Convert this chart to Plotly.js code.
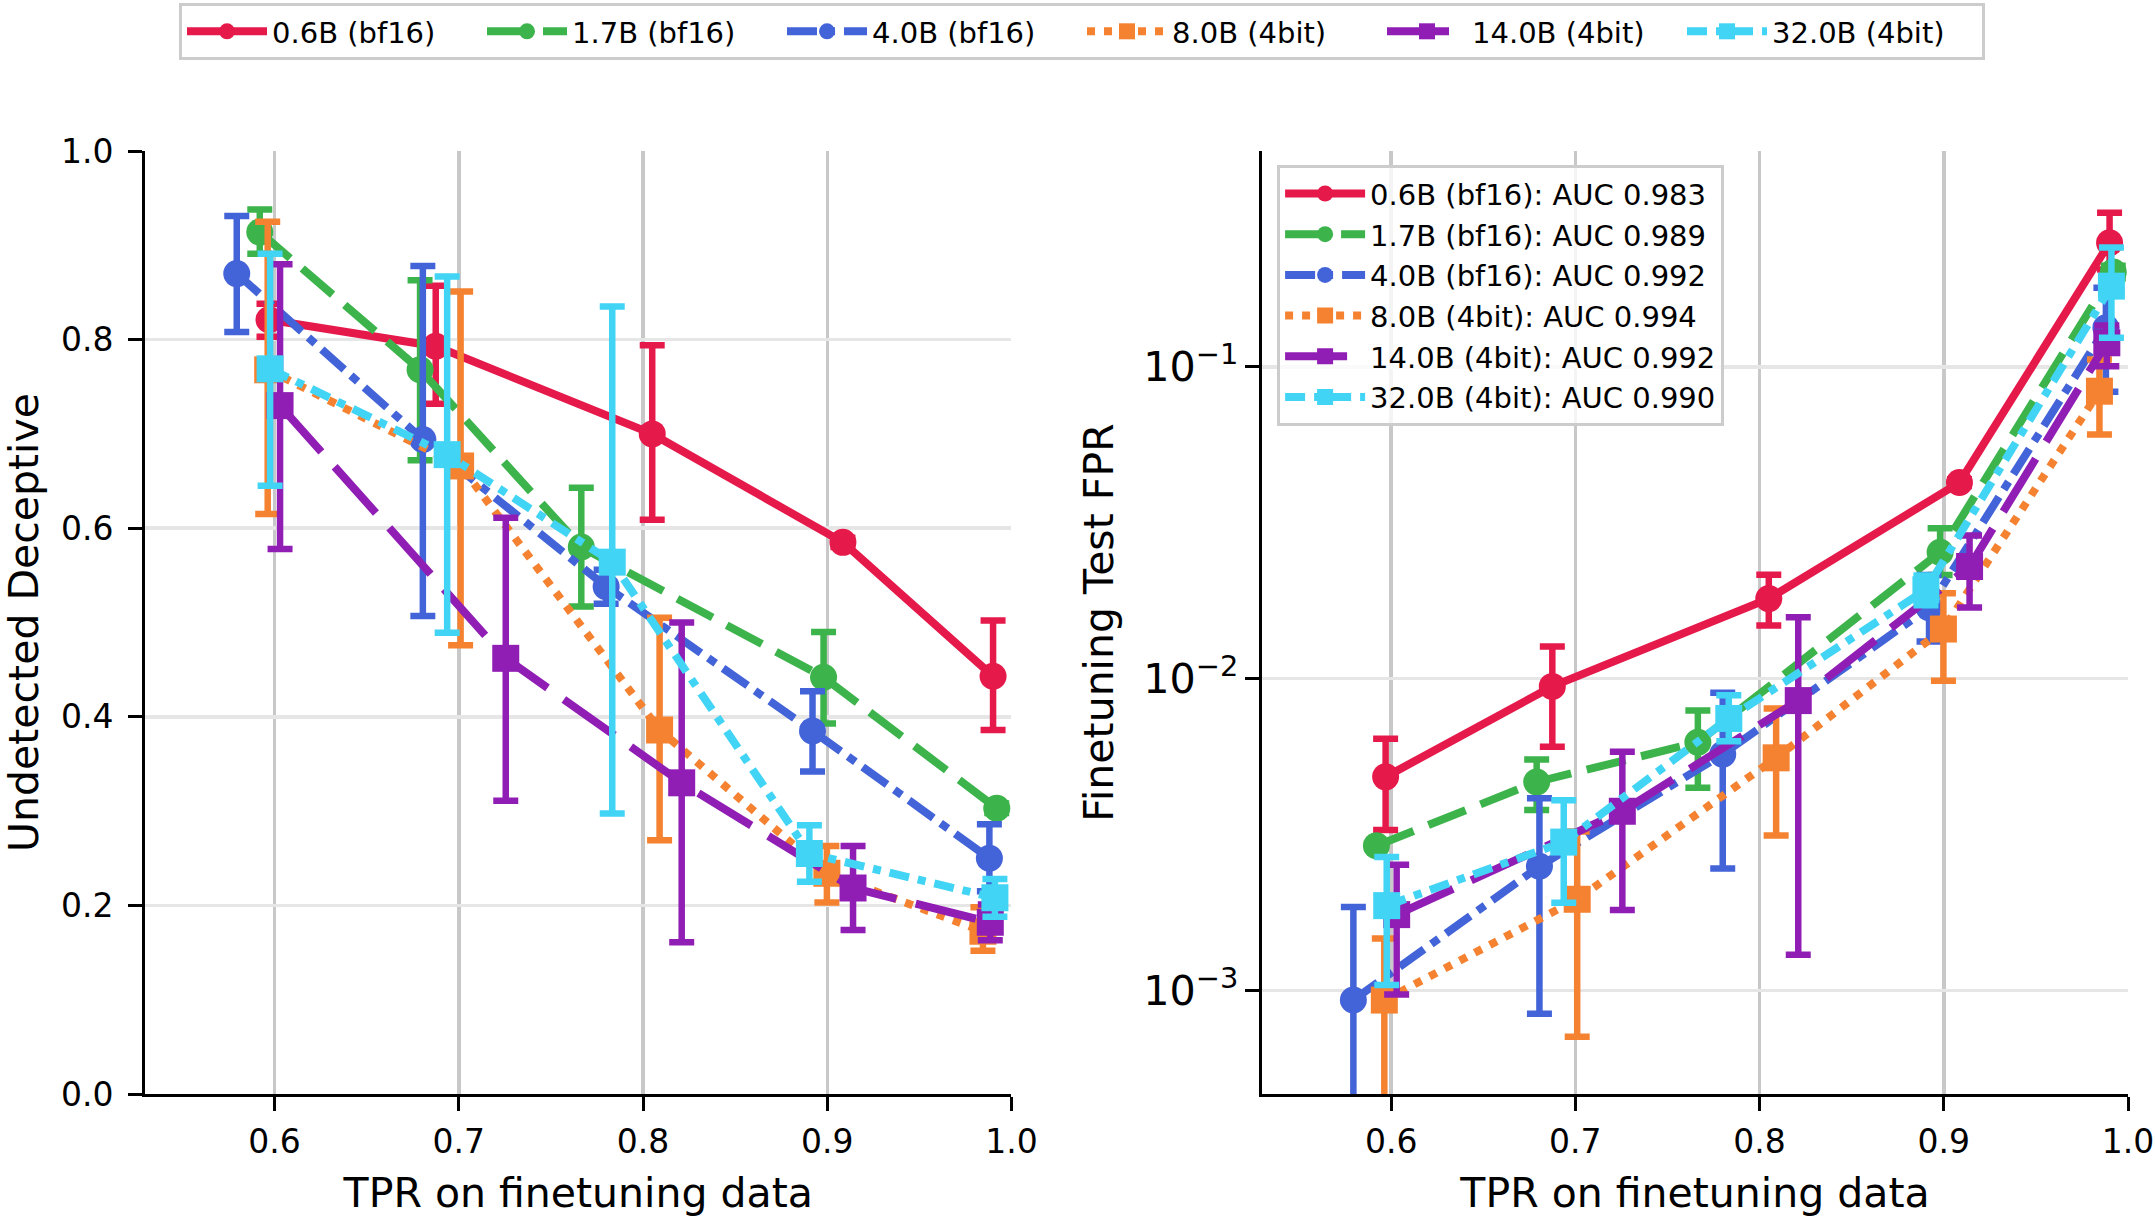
<!DOCTYPE html>
<html>
<head>
<meta charset="utf-8">
<script src="https://cdn.plot.ly/plotly-3.0.1.min.js"></script>
<style>
  html, body { margin: 0; padding: 0; background: #ffffff; }
  #chart { width: 2155px; height: 1217px; }
</style>
</head>
<body>
<div id="chart"></div>
<script>
// Model variants
const modelNames = ['0.6B (bf16)', '1.7B (bf16)', '4.0B (bf16)', '8.0B (4bit)', '14.0B (4bit)', '32.0B (4bit)'];
const aucValues = ['0.983', '0.989', '0.992', '0.994', '0.992', '0.990'];

// TPR on finetuning data (shared x for both panels)
const tpr_06 = [0.597, 0.6875, 0.805, 0.9085, 0.990];
const tpr_17 = [0.592, 0.679, 0.7665, 0.898, 0.992];
const tpr_40 = [0.5795, 0.6805, 0.780, 0.892, 0.988];
const tpr_80 = [0.5963, 0.701, 0.809, 0.8998, 0.9845];
const tpr_140 = [0.603, 0.7255, 0.821, 0.914, 0.9885];
const tpr_320 = [0.5976, 0.6937, 0.7833, 0.8903, 0.991];

// Undetected deceptive fraction, with lower / upper interval bounds
const undet_06 = [0.821, 0.793, 0.700, 0.585, 0.443];
const undet_06_lo = [0.803, 0.732, 0.609, 0.580, 0.386];
const undet_06_hi = [0.838, 0.857, 0.794, 0.590, 0.502];
const undet_17 = [0.914, 0.768, 0.580, 0.442, 0.303];
const undet_17_lo = [0.891, 0.672, 0.517, 0.393, 0.298];
const undet_17_hi = [0.938, 0.863, 0.643, 0.490, 0.308];
const undet_40 = [0.870, 0.694, 0.538, 0.385, 0.250];
const undet_40_lo = [0.808, 0.507, 0.520, 0.342, 0.215];
const undet_40_hi = [0.931, 0.878, 0.556, 0.427, 0.286];
const undet_80 = [0.768, 0.666, 0.386, 0.234, 0.1725];
const undet_80_lo = [0.615, 0.476, 0.269, 0.203, 0.152];
const undet_80_hi = [0.925, 0.851, 0.505, 0.263, 0.198];
const undet_140 = [0.730, 0.462, 0.330, 0.2185, 0.182];
const undet_140_lo = [0.578, 0.311, 0.161, 0.174, 0.163];
const undet_140_hi = [0.880, 0.611, 0.500, 0.263, 0.201];
const undet_320 = [0.769, 0.678, 0.564, 0.255, 0.208];
const undet_320_lo = [0.645, 0.489, 0.2975, 0.225, 0.188];
const undet_320_hi = [0.891, 0.867, 0.835, 0.285, 0.228];

// Finetuning test FPR, with lower / upper interval bounds
const fpr_06 = [0.00484, 0.00944, 0.01805, 0.04253, 0.250];
const fpr_06_lo = [0.00327, 0.00604, 0.0148, 0.0415, 0.205];
const fpr_06_hi = [0.00641, 0.01267, 0.02154, 0.0436, 0.312];
const fpr_17 = [0.00291, 0.00466, 0.00625, 0.02542, 0.2012];
const fpr_17_lo = [0.00286, 0.00379, 0.00447, 0.0215, 0.192];
const fpr_17_hi = [0.00296, 0.0055, 0.0079, 0.03034, 0.211];
const fpr_40 = [0.000931, 0.0025, 0.00572, 0.01689, 0.1334];
const fpr_40_lo = [0.0003, 0.000841, 0.00246, 0.01315, 0.0831];
const fpr_40_hi = [0.00185, 0.00413, 0.00901, 0.0215, 0.1793];
const fpr_80 = [0.000931, 0.00196, 0.00557, 0.01442, 0.0835];
const fpr_80_lo = [0.0003, 0.00071, 0.00314, 0.00984, 0.0607];
const fpr_80_hi = [0.001466, 0.00323, 0.00802, 0.01877, 0.1055];
const fpr_140 = [0.00175, 0.003754, 0.0085, 0.02288, 0.1194];
const fpr_140_lo = [0.00097, 0.00181, 0.0013, 0.01689, 0.1004];
const fpr_140_hi = [0.00253, 0.00583, 0.01574, 0.02876, 0.1357];
const fpr_320 = [0.00187, 0.00299, 0.00745, 0.01927, 0.1814];
const fpr_320_lo = [0.00104, 0.00191, 0.0063, 0.0172, 0.1239];
const fpr_320_hi = [0.00268, 0.00407, 0.00885, 0.0214, 0.2414];

// Per-series styling
const colors = ['#e6194b', '#3cb44b', '#4363d8', '#f58231', '#911eb4', '#42d4f4'];
const symbols = ['circle', 'circle', 'circle', 'square', 'square', 'square'];
const dashes = ['solid', '40px,16px', '30px,9px,9px,9px', '8px,9px', '62px,20px', '20px,9px,8px,9px'];

const series = [
  {x: tpr_06, u: undet_06, ul: undet_06_lo, uh: undet_06_hi, f: fpr_06, fl: fpr_06_lo, fh: fpr_06_hi},
  {x: tpr_17, u: undet_17, ul: undet_17_lo, uh: undet_17_hi, f: fpr_17, fl: fpr_17_lo, fh: fpr_17_hi},
  {x: tpr_40, u: undet_40, ul: undet_40_lo, uh: undet_40_hi, f: fpr_40, fl: fpr_40_lo, fh: fpr_40_hi},
  {x: tpr_80, u: undet_80, ul: undet_80_lo, uh: undet_80_hi, f: fpr_80, fl: fpr_80_lo, fh: fpr_80_hi},
  {x: tpr_140, u: undet_140, ul: undet_140_lo, uh: undet_140_hi, f: fpr_140, fl: fpr_140_lo, fh: fpr_140_hi},
  {x: tpr_320, u: undet_320, ul: undet_320_lo, uh: undet_320_hi, f: fpr_320, fl: fpr_320_lo, fh: fpr_320_hi}
];

function errBars(y, lo, hi, color) {
  return {
    type: 'data', symmetric: false, visible: true,
    array: y.map((v, i) => hi[i] - v),
    arrayminus: y.map((v, i) => v - lo[i]),
    color: color, thickness: 6.5, width: 12.5
  };
}

function baseTrace(s, i) {
  return {
    type: 'scatter', mode: 'lines+markers', x: s.x,
    line: {color: colors[i], width: 8, dash: dashes[i]},
    marker: {symbol: symbols[i], size: 27, color: colors[i], line: {width: 0}}
  };
}

const traces = [];
// Left panel: undetected deceptive vs TPR
series.forEach((s, i) => {
  traces.push(Object.assign(baseTrace(s, i), {
    y: s.u, xaxis: 'x', yaxis: 'y',
    name: modelNames[i], legend: 'legend',
    error_y: errBars(s.u, s.ul, s.uh, colors[i])
  }));
});
// Right panel: finetuning test FPR vs TPR (log scale)
series.forEach((s, i) => {
  traces.push(Object.assign(baseTrace(s, i), {
    y: s.f, xaxis: 'x2', yaxis: 'y2',
    name: modelNames[i] + ': AUC ' + aucValues[i], legend: 'legend2',
    error_y: errBars(s.f, s.fl, s.fh, colors[i])
  }));
});

const tprTicks = [0.6, 0.7, 0.8, 0.9, 1.0];
const axisBase = {
  showline: true, linecolor: '#000000', linewidth: 3,
  ticks: 'outside', ticklen: 14, tickwidth: 3, tickcolor: '#000000',
  zeroline: false, mirror: false,
  tickfont: {family: 'DejaVu Sans', size: 33, color: '#000000'}
};

const layout = {
  width: 2155, height: 1217,
  margin: {l: 145, r: 27, t: 151, b: 123, autoexpand: false},
  paper_bgcolor: '#ffffff', plot_bgcolor: '#ffffff',
  font: {family: 'DejaVu Sans', size: 29, color: '#000000'},
  showlegend: true,
  xaxis: Object.assign({}, axisBase, {
    domain: [0, 0.43696], range: [0.5297, 1.0], anchor: 'y',
    tickvals: tprTicks, tickformat: '.1f', ticklabelstandoff: 2,
    showgrid: true, gridcolor: '#c8c8c8', gridwidth: 3.5,
    title: {text: 'TPR on finetuning data', font: {size: 41}, standoff: 21}
  }),
  yaxis: Object.assign({}, axisBase, {
    domain: [0, 1], range: [0, 1.0], anchor: 'x',
    tickvals: [0, 0.2, 0.4, 0.6, 0.8, 1.0], tickformat: '.1f', ticklabelstandoff: 8,
    showgrid: true, gridcolor: '#e6e6e6', gridwidth: 3.5,
    title: {text: 'Undetected Deceptive', font: {size: 41}, standoff: 15}
  }),
  xaxis2: Object.assign({}, axisBase, {
    domain: [0.56329, 1], range: [0.5299, 1.0], anchor: 'y2',
    tickvals: tprTicks, tickformat: '.1f', ticklabelstandoff: 2,
    showgrid: true, gridcolor: '#c8c8c8', gridwidth: 3.5,
    title: {text: 'TPR on finetuning data', font: {size: 41}, standoff: 21}
  }),
  yaxis2: Object.assign({}, axisBase, {
    domain: [0, 1], type: 'log', range: [-3.3323, -0.3079], anchor: 'x2',
    dtick: 1, exponentformat: 'power',
    showgrid: true, gridcolor: '#e6e6e6', gridwidth: 3.5,
    title: {text: 'Finetuning Test FPR', font: {size: 41}, standoff: 18}
  }),
  legend: {
    orientation: 'h', x: 0.01715, xanchor: 'left', y: 1.157, yanchor: 'top',
    bgcolor: 'rgba(255,255,255,0.8)', bordercolor: '#cccccc', borderwidth: 3,
    font: {family: 'DejaVu Sans', size: 29, color: '#000000'},
    entrywidth: 205, entrywidthmode: 'pixels', itemwidth: 80, itemsizing: 'trace'
  },
  legend2: {
    orientation: 'v', x: 0.5709, xanchor: 'left', y: 0.985, yanchor: 'top',
    bgcolor: 'rgba(255,255,255,0.8)', bordercolor: '#cccccc', borderwidth: 3,
    font: {family: 'DejaVu Sans', size: 29, color: '#000000'},
    itemwidth: 80, itemsizing: 'trace', tracegroupgap: 0
  }
};

Plotly.newPlot('chart', traces, layout, {displayModeBar: false, staticPlot: true});
</script>
</body>
</html>
